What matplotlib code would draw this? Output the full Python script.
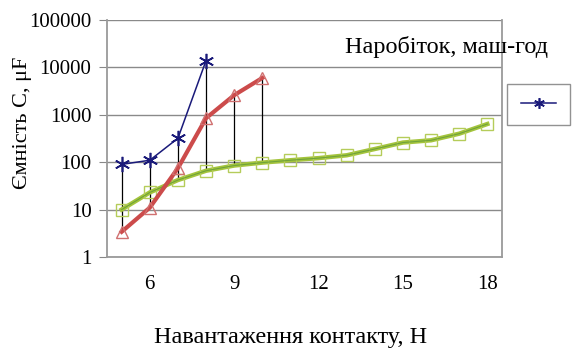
import matplotlib.pyplot as plt

plt.rcParams['font.family'] = ['Liberation Serif', 'DejaVu Serif']

# навантаження, Н
x_blue = [5, 6, 7, 8]
x_red = [5, 6, 7, 8, 9, 10]
x_green = [5, 6, 7, 8, 9, 10, 11, 12, 13, 14, 15, 16, 17, 18]

# ємність, мкФ
c_blue = [90, 110, 320, 14000]
c_red = [3.4, 11, 75, 850, 2600, 6000]
c_green = [10, 23, 42, 66, 85, 98, 110, 122, 140, 190, 260, 290, 400, 640]

x_ticks = [6, 9, 12, 15, 18]
y_ticks = [1, 10, 100, 1000, 10000, 100000]

fig = plt.figure(figsize=(5.74, 3.52), dpi=100)
ax = fig.add_axes([0.186, 0.270, 0.689, 0.673])

# вертикальні лінії між найбільшим і найменшим значенням
series = [(x_blue, c_blue), (x_red, c_red), (x_green, c_green)]
for xv in x_green:
    vals = [c[xs.index(xv)] for xs, c in series if xv in xs]
    if len(vals) > 1:
        ax.vlines(xv, min(vals), max(vals), color='black', lw=0.9, zorder=2)

ax.plot(x_green, c_green, color='#a4c43c', lw=3.2, marker='s', ms=9,
        mfc='none', mec='#b5cc5a', mew=1.0, zorder=3)
ax.plot(x_green, c_green, color='#6fa33a', lw=0.8, zorder=3)
ax.plot(x_red, c_red, color='#cc4b4b', lw=3.0, marker='^', ms=8,
        mfc='none', mec='#d07070', mew=1.0, zorder=4)
blue, = ax.plot(x_blue, c_blue, color='#1a1a7a', lw=1.1, marker=(6, 2, 0),
                ms=11, mec='#1a1a7a', mew=1.2, zorder=5)

ax.set_yscale('log')
ax.set_ylim(1, 100000)
ax.set_xlim(4.47, 18.53)
ax.set_yticks(y_ticks)
ax.set_yticklabels([str(v) for v in y_ticks])
ax.minorticks_off()
ax.set_xticks(x_ticks)
ax.set_xticklabels([str(v) for v in x_ticks])
ax.tick_params(axis='y', length=6, color='#888888', labelsize=15, pad=5)
ax.tick_params(axis='x', length=0, labelsize=15, pad=13)
ax.grid(axis='y', color='#8a8a8a', lw=1.0)
for s in ['left', 'bottom', 'right']:
    ax.spines[s].set_color('#9a9a9a')
    ax.spines[s].set_linewidth(1.3)
ax.spines['top'].set_visible(False)

ax.set_ylabel('Ємність С, μF', fontsize=16)
ax.yaxis.set_label_coords(-0.19, 0.565)
ax.set_xlabel('Навантаження контакту, Н', fontsize=17.5)
ax.xaxis.set_label_coords(0.465, -0.295)
ax.text(0.86, 0.885, 'Наробіток, маш-год', transform=ax.transAxes,
        ha='center', va='center', fontsize=17.5)

leg = ax.legend([blue], [''], loc='upper left', bbox_to_anchor=(1.013, 0.73),
                borderaxespad=0, frameon=True, fancybox=False,
                handlelength=2.5, borderpad=1.0, handletextpad=0,
                markerscale=0.7)
leg.get_frame().set_edgecolor('#777777')
leg.get_frame().set_linewidth(1.0)

fig.savefig('out.png', dpi=100)
